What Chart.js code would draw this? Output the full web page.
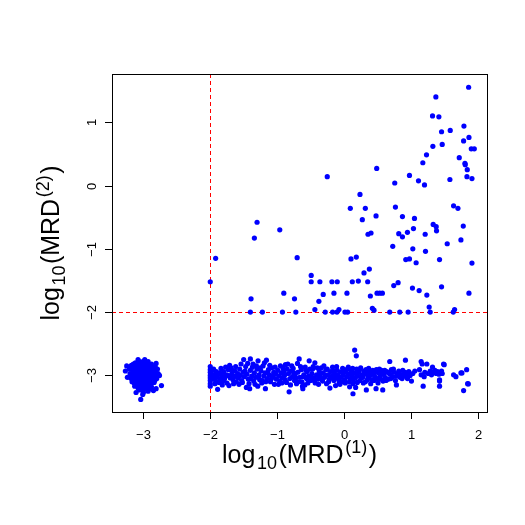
<!DOCTYPE html>
<html>
<head>
<meta charset="utf-8">
<script src="https://cdn.jsdelivr.net/npm/chart.js@4/dist/chart.umd.min.js"></script>
<style>
  body { margin: 0; background: #fff; }
  canvas { display: block; }
</style>
</head>
<body>
<canvas id="chart" width="525" height="525"></canvas>
<script>
// ticks and cut-off lines
var xTicks = [-3, -2, -1, 0, 1, 2];
var yTicks = [-3, -2, -1, 0, 1];
var xCut = -2;
var yCut = -2;

// points around (-3,-3): both below detection
var lowCluster = [
  [-3.27,-2.93],[-3.25,-2.85],[-3.24,-3.03],[-3.11,-3.27],[-3.04,-3.38],[-3.01,-3.30],[-2.93,-3.25],
  [-2.85,-3.24],[-2.81,-3.21],[-2.73,-3.16],[-2.81,-2.81],[-2.98,-2.75],[-3.08,-2.75],
  [-3.18,-2.84],[-3.16,-2.92],[-3.15,-3.00],[-3.17,-3.06],[-3.14,-3.12],[-3.12,-2.80],[-3.12,-2.88],
  [-3.11,-2.95],[-3.10,-3.02],[-3.11,-3.09],[-3.09,-3.15],[-3.08,-3.20],[-3.06,-2.78],[-3.06,-2.84],
  [-3.07,-2.91],[-3.05,-2.97],[-3.06,-3.04],[-3.04,-3.10],[-3.05,-3.16],[-3.03,-3.22],[-3.02,-2.81],
  [-3.01,-2.87],[-3.02,-2.93],[-3.00,-2.99],[-3.01,-3.05],[-3.00,-3.12],[-2.99,-3.18],[-2.98,-2.80],
  [-2.97,-2.86],[-2.96,-2.92],[-2.97,-2.98],[-2.95,-3.03],[-2.96,-3.09],[-2.94,-3.15],[-2.95,-3.20],
  [-2.93,-2.78],[-2.92,-2.84],[-2.91,-2.90],[-2.92,-2.96],[-2.90,-3.01],[-2.91,-3.07],[-2.89,-3.13],
  [-2.88,-3.18],[-2.88,-2.82],[-2.87,-2.88],[-2.86,-2.94],[-2.85,-3.00],[-2.86,-3.06],[-2.84,-3.11],
  [-2.83,-2.86],[-2.82,-2.93],[-2.81,-2.99],[-2.80,-3.05],[-2.79,-2.90],[-2.78,-2.97],[-3.20,-2.97],
  [-3.19,-3.04],[-3.21,-2.90],[-3.13,-3.17],[-3.09,-2.99],[-3.03,-3.00],[-2.99,-2.93],[-2.94,-2.99],
  [-3.04,-2.89],[-2.98,-3.07],[-3.08,-3.06],[-2.89,-2.96],[-2.96,-2.83],[-3.14,-2.86],[-2.87,-3.02],
  [-3.02,-3.14],[-2.92,-3.10],[-3.07,-2.83],[-3.00,-2.85],[-2.94,-2.88],[-2.90,-2.85],[-3.13,-3.03],
  [-3.16,-2.96],[-2.84,-2.97],[-2.76,-3.00],[-2.83,-3.08],[-2.97,-3.13],[-3.06,-3.12],[-3.10,-2.84],
  [-3.00,-3.27],[-3.06,-3.23],[-2.90,-3.21],
  [-3.19,-2.88],[-3.17,-3.10],[-3.15,-2.82],[-3.13,-2.94],[-3.12,-3.00],[-3.10,-3.08],[-3.08,-2.88],
  [-3.05,-3.02],[-3.03,-2.84],[-3.02,-3.08],[-3.00,-2.95],[-2.99,-3.03],[-2.97,-2.90],[-2.95,-2.96],
  [-2.94,-3.07],[-2.93,-2.93],[-2.91,-3.03],[-2.89,-2.92],[-2.87,-3.09],[-2.85,-2.91],[-2.83,-3.03],
  [-2.82,-2.88],[-3.09,-3.12],[-2.99,-3.22],[-3.07,-2.96],[-2.96,-3.16],[-3.01,-2.78],[-3.15,-3.05]
];

// band near y = -3 (MRD(2) below detection)
var band = [
  [-2.00,-2.86],[-2.00,-2.91],[-2.00,-2.95],[-2.00,-3.00],[-2.00,-3.04],[-2.00,-3.08],[-2.00,-3.13],
  [-2.00,-3.17],[-1.99,-2.98],[-1.99,-3.06],[-1.98,-2.93],[-1.98,-3.02],
  [-1.96,-3.05],[-1.94,-2.99],[-1.92,-3.08],[-1.90,-3.02],[-1.89,-3.22],[-1.88,-2.97],[-1.86,-2.96],
  [-1.85,-3.05],[-1.83,-3.00],[-1.81,-3.09],[-1.80,-2.94],[-1.78,-3.03],[-1.76,-2.99],[-1.75,-3.12],
  [-1.73,-2.91],[-1.71,-2.84],[-1.69,-2.88],[-1.70,-3.04],[-1.68,-2.98],[-1.66,-3.07],[-1.64,-3.01],
  [-1.63,-2.93],[-1.61,-3.10],[-1.59,-2.97],[-1.58,-3.04],[-1.56,-2.90],[-1.55,-3.00],[-1.53,-3.08],
  [-1.51,-2.95],[-1.50,-2.75],[-1.49,-3.02],[-1.47,-2.86],[-1.46,-3.19],[-1.45,-2.98],[-1.43,-3.06],
  [-1.41,-3.21],[-1.40,-2.74],[-1.40,-2.92],[-1.38,-3.01],[-1.37,-2.87],[-1.35,-3.09],[-1.34,-2.96],
  [-1.32,-3.03],[-1.30,-2.90],[-1.29,-3.17],[-1.285,-2.77],[-1.27,-2.99],[-1.26,-3.07],[-1.24,-2.93],
  [-1.23,-3.12],[-1.21,-2.85],[-1.20,-3.01],[-1.18,-2.96],[-1.175,-3.21],[-1.16,-2.76],[-1.15,-3.05],
  [-1.13,-2.91],[-1.12,-2.99],[-1.10,-3.10],[-1.08,-2.88],[-1.07,-3.03],[-1.05,-2.95],[-1.04,-3.14],
  [-1.02,-2.98],[-1.01,-3.06],
  [-1.95,-2.90],[-1.93,-3.13],[-1.91,-2.94],[-1.87,-3.11],[-1.84,-2.89],[-1.82,-3.15],[-1.79,-3.06],
  [-1.77,-2.87],[-1.74,-3.00],[-1.72,-3.16],[-1.67,-2.92],[-1.65,-3.13],[-1.62,-2.86],[-1.60,-3.02],
  [-1.57,-3.14],[-1.54,-2.82],[-1.52,-3.11],[-1.48,-2.93],[-1.44,-2.81],[-1.42,-3.13],[-1.39,-3.05],
  [-1.36,-2.82],[-1.33,-3.14],[-1.31,-2.85],[-1.28,-3.03],[-1.25,-2.88],[-1.22,-3.08],[-1.19,-2.80],
  [-1.17,-3.10],[-1.14,-2.95],[-1.11,-2.84],[-1.09,-3.06],[-1.06,-3.00],[-1.03,-2.87],
  [-0.99,-2.92],[-0.97,-3.01],[-0.96,-3.09],[-0.94,-2.96],[-0.92,-3.04],[-0.91,-2.89],[-0.89,-3.00],
  [-0.875,-2.83],[-0.86,-3.11],[-0.84,-2.82],[-0.83,-2.97],[-0.82,-3.26],[-0.81,-3.05],[-0.79,-2.93],
  [-0.77,-3.02],[-0.76,-2.89],[-0.74,-3.08],[-0.73,-2.98],[-0.71,-3.13],[-0.695,-2.81],[-0.69,-2.95],
  [-0.67,-2.74],[-0.66,-3.03],[-0.64,-2.91],[-0.63,-3.10],[-0.62,-3.17],[-0.615,-3.21],[-0.60,-2.99],
  [-0.585,-3.15],[-0.58,-2.87],[-0.56,-3.05],[-0.55,-2.94],[-0.53,-3.01],[-0.52,-2.77],[-0.50,-3.08],
  [-0.48,-2.97],[-0.47,-2.90],[-0.45,-3.04],[-0.435,-2.80],[-0.43,-3.12],[-0.41,-2.99],[-0.39,-3.06],
  [-0.37,-2.93],[-0.36,-3.02],[-0.34,-2.88],[-0.32,-3.09],[-0.31,-2.96],[-0.29,-3.03],[-0.27,-2.91],
  [-0.26,-3.13],[-0.24,-2.99],[-0.22,-3.06],[-0.21,-3.20],[-0.20,-2.94],[-0.18,-3.01],[-0.17,-2.87],
  [-0.15,-3.08],[-0.14,-2.97],[-0.125,-3.16],[-0.12,-3.04],[-0.10,-2.92],[-0.09,-3.00],[-0.07,-3.11],
  [-0.06,-3.14],[-0.05,-2.95],[-0.04,-3.03],[-0.02,-2.89],[-0.01,-2.99],
  [-0.98,-3.14],[-0.95,-2.85],[-0.93,-3.12],[-0.90,-2.94],[-0.88,-3.07],[-0.85,-2.90],[-0.80,-3.15],
  [-0.78,-2.85],[-0.75,-2.96],[-0.72,-3.04],[-0.68,-3.10],[-0.65,-2.86],[-0.61,-3.02],[-0.57,-2.92],
  [-0.54,-3.12],[-0.51,-2.90],[-0.49,-3.02],[-0.46,-2.86],[-0.44,-3.09],[-0.40,-2.88],[-0.38,-3.14],
  [-0.35,-2.97],[-0.33,-3.05],[-0.30,-2.85],[-0.28,-3.00],[-0.25,-2.90],[-0.23,-3.10],[-0.19,-3.04],
  [-0.16,-2.93],[-0.13,-3.02],[-0.11,-2.86],[-0.08,-3.06],[-0.03,-3.10],
  [0.01,-3.07],[0.03,-2.94],[0.04,-3.02],[0.065,-2.87],[0.07,-2.98],[0.085,-3.18],[0.09,-3.05],
  [0.11,-2.92],[0.12,-3.00],[0.135,-3.29],[0.135,-3.13],[0.15,-2.96],[0.16,-2.60],[0.17,-3.04],
  [0.175,-3.19],[0.185,-2.69],[0.19,-2.90],[0.21,-3.01],[0.22,-2.95],[0.24,-3.08],[0.25,-2.88],
  [0.27,-2.99],[0.28,-3.03],[0.30,-2.93],[0.32,-3.10],[0.335,-3.23],[0.34,-2.97],[0.36,-3.04],
  [0.37,-2.89],[0.39,-3.00],[0.41,-2.94],[0.42,-3.07],[0.44,-2.98],[0.46,-3.02],[0.48,-3.21],
  [0.485,-2.91],[0.50,-3.05],[0.52,-2.96],[0.54,-3.01],[0.56,-2.92],[0.58,-3.23],[0.585,-3.09],
  [0.60,-2.99],[0.62,-3.04],[0.64,-2.94],[0.66,-3.06],[0.685,-2.78],[0.69,-2.98],[0.71,-2.91],
  [0.73,-3.02],[0.75,-2.95],[0.77,-3.08],[0.785,-3.15],[0.80,-2.97],[0.82,-2.93],[0.84,-3.03],
  [0.86,-2.99],[0.88,-2.92],[0.90,-3.01],[0.92,-2.76],[0.93,-2.96],[0.95,-3.05],[0.97,-2.94],
  [0.99,-3.00],
  [0.00,-2.94],[0.02,-3.12],[0.05,-2.90],[0.08,-3.10],[0.10,-2.97],[0.13,-2.89],[0.14,-3.07],
  [0.18,-2.97],[0.20,-3.11],[0.23,-2.92],[0.26,-3.04],[0.29,-3.12],[0.31,-2.98],[0.33,-2.91],
  [0.35,-3.07],[0.38,-2.95],[0.40,-3.13],[0.43,-2.92],[0.45,-3.08],[0.47,-2.95],[0.51,-3.12],
  [0.53,-2.90],[0.55,-3.06],[0.57,-2.97],[0.61,-2.92],[0.63,-3.08],[0.67,-2.96],[0.70,-3.05],
  [0.74,-2.90],[0.79,-3.01],[0.83,-2.97],[0.87,-3.05],[0.91,-2.95],[0.96,-3.01],
  [1.01,-3.09],[1.03,-2.97],[1.06,-2.93],[1.13,-2.91],[1.155,-2.78],[1.155,-2.99],[1.17,-2.82],
  [1.185,-3.17],[1.20,-3.02],[1.21,-2.95],[1.24,-2.82],[1.26,-2.97],[1.29,-2.93],[1.31,-2.99],
  [1.325,-2.87],[1.34,-2.95],[1.36,-2.92],[1.38,-2.97],[1.40,-2.94],[1.42,-2.98],[1.43,-3.07],
  [1.43,-3.09],[1.43,-3.17],[1.44,-2.95],[1.46,-2.93],[1.47,-2.97],[1.49,-2.82],[1.50,-2.83],
  [1.64,-2.99],[1.675,-3.02],[1.75,-2.96],[1.765,-2.96],[1.79,-3.24],[1.835,-2.91],[1.85,-3.13],
  [1.86,-3.135]
];

// measurable MRD(2) points
var upper = [
  [-2.00,-1.52],[-1.92,-1.15],[-1.30,-0.58],[-1.34,-0.83],[-0.96,-0.70],[-0.25,0.14],[-0.70,-1.14],
  [-0.49,-1.42],[-0.49,-1.52],[-0.36,-1.52],[-0.18,-1.52],[-0.10,-1.52],[-1.39,-1.79],[-0.90,-1.70],
  [-0.74,-1.79],[-0.31,-1.72],[-0.15,-1.70],[-0.375,-1.83],[-0.435,-1.96],[-1.40,-2.00],[-1.22,-2.00],
  [-0.92,-2.00],[-0.72,-2.00],[-0.28,-2.00],[-0.17,-2.00],[-0.105,-2.00],[-0.075,-1.96],
  [1.865,1.553],[1.375,1.40],[1.325,1.10],[1.42,1.085],[1.46,0.85],[1.59,0.87],[1.795,0.94],
  [1.33,0.62],[1.47,0.65],[1.79,0.705],[1.87,0.76],[1.905,0.58],[1.95,0.58],[1.235,0.485],
  [1.18,0.36],[1.725,0.44],[1.81,0.35],[1.815,0.33],[1.845,0.25],[1.84,0.14],[1.915,0.11],
  [1.585,0.095],[0.49,0.27],[0.76,0.04],[0.98,0.16],[1.115,0.075],[1.205,0.01],[0.24,-0.14],
  [0.095,-0.36],[0.32,-0.36],[0.275,-0.54],[0.48,-0.48],[0.77,-0.34],[0.875,-0.49],[1.055,-0.52],
  [1.64,-0.32],[1.705,-0.36],[1.335,-0.615],[1.38,-0.65],[1.385,-0.715],[1.785,-0.64],[0.36,-0.77],
  [0.405,-0.75],[0.82,-0.76],[0.875,-0.81],[0.95,-0.74],[1.04,-0.68],[1.215,-0.77],[0.73,-0.96],
  [1.03,-1.00],[1.22,-1.04],[1.545,-0.92],[1.75,-0.86],[0.105,-1.16],[0.185,-1.13],[0.925,-1.17],
  [0.98,-1.16],[1.08,-1.22],[1.43,-1.17],[1.915,-1.225],[0.30,-1.38],[0.38,-1.32],[0.125,-1.52],
  [0.215,-1.51],[0.355,-1.52],[0.045,-1.70],[0.395,-1.745],[0.495,-1.70],[0.535,-1.70],[0.575,-1.70],
  [0.745,-1.58],[0.81,-1.535],[1.025,-1.62],[1.125,-1.66],[1.24,-1.73],[1.46,-1.60],[1.87,-1.70],
  [0.425,-1.94],[0.45,-1.97],[1.275,-1.92],[1.655,-1.96],[0.015,-2.00],[0.055,-2.00],[0.685,-2.00],
  [0.835,-2.00],[0.96,-2.00],[1.29,-2.00],[1.635,-2.00]
];

var toXY = function(list) {
  return list.map(function(p) { return {x: p[0], y: p[1]}; });
};

// draw "log10(MRD^(k))" the plotmath way: pieces with size and shift
var drawMath = function(ctx, parts, size) {
  var w = 0;
  parts.forEach(function(p) {
    ctx.font = Math.round(size * p.s) + 'px "Liberation Sans", Arial, sans-serif';
    p.w = ctx.measureText(p.t).width + (p.s < 1 ? 3 : 0);
    w += p.w;
  });
  var x = -w / 2;
  parts.forEach(function(p) {
    ctx.font = Math.round(size * p.s) + 'px "Liberation Sans", Arial, sans-serif';
    ctx.fillText(p.t, x + (p.s < 1 ? 1.5 : 0), p.d * size);
    x += p.w;
  });
};

var mrdLabel = function(k) {
  return [
    {t: 'log', s: 1, d: 0},
    {t: '10', s: 0.7, d: 0.22},
    {t: '(MRD', s: 1, d: 0},
    {t: '(' + k + ')', s: 0.7, d: -0.42},
    {t: ')', s: 1, d: 0}
  ];
};

var frame = {
  id: 'frame',
  beforeDatasetsDraw: function(chart) {
    var ctx = chart.ctx, a = chart.chartArea;
    var xs = chart.scales.x, ys = chart.scales.y;
    var px = xs.getPixelForValue(xCut), py = ys.getPixelForValue(yCut);
    ctx.save();
    ctx.strokeStyle = '#ff0000';
    ctx.lineWidth = 1;
    ctx.setLineDash([4, 3]);
    ctx.beginPath();
    ctx.moveTo(Math.round(px) + 0.5, a.top);
    ctx.lineTo(Math.round(px) + 0.5, a.bottom);
    ctx.moveTo(a.left, Math.round(py) + 0.5);
    ctx.lineTo(a.right, Math.round(py) + 0.5);
    ctx.stroke();
    ctx.restore();
  },
  afterDraw: function(chart) {
    var ctx = chart.ctx, a = chart.chartArea;
    var xs = chart.scales.x, ys = chart.scales.y;
    ctx.save();
    ctx.strokeStyle = '#000';
    ctx.lineWidth = 1;
    ctx.strokeRect(a.left + 0.5, a.top + 0.5, a.right - a.left, a.bottom - a.top);

    ctx.fillStyle = '#000';
    ctx.font = '13px "Liberation Sans", Arial, sans-serif';
    ctx.textAlign = 'center';
    ctx.textBaseline = 'alphabetic';
    ctx.beginPath();
    xTicks.forEach(function(v) {
      var p = Math.round(xs.getPixelForValue(v)) + 0.5;
      ctx.moveTo(p, a.bottom);
      ctx.lineTo(p, a.bottom + 7);
      ctx.fillText(String(v).replace('-', '\u2212'), p, a.bottom + 27);
    });
    yTicks.forEach(function(v) {
      var p = Math.round(ys.getPixelForValue(v)) + 0.5;
      ctx.moveTo(a.left, p);
      ctx.lineTo(a.left - 7, p);
      ctx.save();
      ctx.translate(a.left - 16, p);
      ctx.rotate(-Math.PI / 2);
      ctx.fillText(String(v).replace('-', '\u2212'), 0, 0);
      ctx.restore();
    });
    ctx.stroke();

    // axis titles
    ctx.textAlign = 'left';
    ctx.save();
    ctx.translate((a.left + a.right) / 2, a.bottom + 51);
    drawMath(ctx, mrdLabel(1), 25);
    ctx.restore();
    ctx.save();
    ctx.translate(a.left - 53, (a.top + a.bottom) / 2);
    ctx.rotate(-Math.PI / 2);
    drawMath(ctx, mrdLabel(2), 25);
    ctx.restore();
    ctx.restore();
  }
};

var dot = {pointRadius: 2.6, pointBackgroundColor: '#0000ff', pointBorderWidth: 0, pointHoverRadius: 2.6};

var canvas = document.getElementById('chart'),
ctx = canvas.getContext('2d');

var chart = new Chart(ctx, {
  type: 'scatter',
  data: {
    datasets: [
      Object.assign({label: 'cluster', data: toXY(lowCluster)}, dot),
      Object.assign({label: 'band', data: toXY(band)}, dot),
      Object.assign({label: 'upper', data: toXY(upper)}, dot)
    ]
  },
  options: {
    responsive: false,
    animation: false,
    layout: {padding: {left: 112, top: 74, right: 38, bottom: 113}},
    plugins: {legend: {display: false}, tooltip: {enabled: false}},
    scales: {
      x: {type: 'linear', min: -3.47, max: 2.14, display: false},
      y: {type: 'linear', min: -3.578, max: 1.762, display: false}
    }
  },
  plugins: [frame]
});
</script>
</body>
</html>
